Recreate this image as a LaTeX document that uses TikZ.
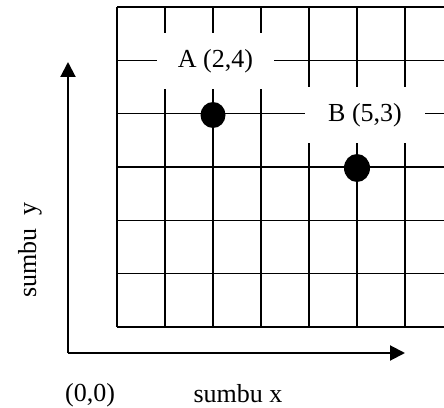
\documentclass[tikz,border=0pt]{standalone}
\usepackage{fontspec}
\setmainfont{Liberation Serif}
\usetikzlibrary{arrows.meta}
\begin{document}
\begin{tikzpicture}[x=1pt,y=1pt,
  gridline/.style={line width=1.3pt,black},
  axisline/.style={line width=2pt,black,-{Triangle[length=15pt,width=15pt]}},
  lbl/.style={font=\fontsize{26}{30}\selectfont,inner sep=0pt},
  boxlbl/.style={lbl,fill=white},
  dot/.style={fill=black,ellipse,inner sep=0pt}]
\useasboundingbox (0,0) rectangle (444,407);
\clip (0,0) rectangle (444,407);
\fill[white] (0,0) rectangle (444,407);
% grid
\begin{scope}[shift={(117,80)}]
  \draw[gridline,xstep=48,ystep=53.333] (0,0) grid (336,320);
\end{scope}
% labels
\node[boxlbl,minimum width=117pt,minimum height=56pt] (A) at (215.5,346) {A (2,4)};
\node[boxlbl,minimum width=120pt,minimum height=56pt] (B) at (365,292) {B (5,3)};
% points
\fill (213,292) ellipse [x radius=12.5, y radius=13];
\fill (357,239) ellipse [x radius=13, y radius=14];
% axes
\coordinate (O) at (68,54);
\coordinate (ytip) at (68,345);
\coordinate (xtip) at (405,54);
\draw[axisline] (O) -- (ytip);
\draw[axisline] (O) -- (xtip);
% axis labels
\node[lbl,anchor=base] (origin) at (90,6) {(0,0)};
\node[lbl,anchor=base] (sx) at (238,4.5) {sumbu x};
\node[lbl,anchor=base,rotate=90] (sy) at (36,157) {sumbu\ \ y};
\end{tikzpicture}
\end{document}
